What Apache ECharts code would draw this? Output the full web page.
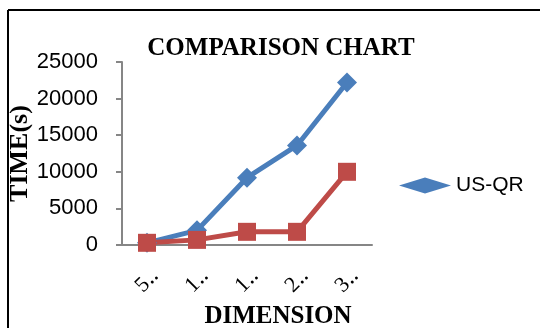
<!DOCTYPE html>
<html><head><meta charset="utf-8">
<script src="https://cdn.jsdelivr.net/npm/echarts@6/dist/echarts.min.js"></script>
<style>html,body{margin:0;padding:0;background:#fff}#c{width:540px;height:328px}</style>
</head><body><div id="c"></div>
<script>
const categories = ['5‥', '1‥', '1‥', '2‥', '3‥'];
const usqr = [300, 2000, 9200, 13600, 22200];
const other = [300, 700, 1800, 1800, 10000];
const yTicks = [0, 5000, 10000, 15000, 20000, 25000];

const chart = echarts.init(document.getElementById('c'), null, {renderer: 'canvas'});
chart.setOption({
  backgroundColor: '#fff',
  animation: false,
  title: {
    text: 'COMPARISON CHART', left: 276, top: 31, textAlign: 'center',
    textStyle: {fontFamily: 'Liberation Serif', fontWeight: 'bold', fontSize: 25, color: '#000'}
  },
  graphic: [
    {type: 'line', shape: {x1: 8, y1: 10, x2: 540, y2: 10}, style: {stroke: '#000', lineWidth: 2}},
    {type: 'line', shape: {x1: 8, y1: 10, x2: 8, y2: 328}, style: {stroke: '#000', lineWidth: 2}}
  ],
  legend: {
    data: [{name: 'US-QR', icon: 'diamond'}],
    left: 394, top: 170, itemWidth: 52, itemHeight: 16, itemGap: 5,
    textStyle: {fontFamily: 'Liberation Sans', fontSize: 21, color: '#000'}
  },
  grid: {left: 122, right: 168, top: 62, bottom: 83, containLabel: false, outerBoundsMode: 'none'},
  xAxis: {
    type: 'category', data: categories, boundaryGap: true,
    name: 'DIMENSION', nameLocation: 'middle', nameGap: 58,
    nameTextStyle: {fontFamily: 'Liberation Serif', fontWeight: 'bold', fontSize: 25, color: '#000', padding: [0, 0, 0, 62]},
    axisLine: {lineStyle: {color: '#868686', width: 2}},
    axisTick: {show: false},
    axisLabel: {rotate: 45, margin: 36, align: 'center', verticalAlign: 'middle',
      fontFamily: 'Liberation Serif', fontSize: 22, color: '#000'}
  },
  yAxis: {
    type: 'value', min: 0, max: 25000, interval: 5000,
    name: 'TIME(s)', nameLocation: 'middle', nameGap: 72, nameRotate: 90,
    nameTextStyle: {fontFamily: 'Liberation Serif', fontWeight: 'bold', fontSize: 26, color: '#000', padding: [0, 0, 6, 0]},
    axisLine: {show: true, lineStyle: {color: '#868686', width: 2}},
    axisTick: {show: true, length: 6, lineStyle: {color: '#868686', width: 2}},
    splitLine: {show: false},
    axisLabel: {margin: 24, fontFamily: 'Liberation Sans', fontSize: 22, color: '#000',
      formatter: v => yTicks.includes(v) ? String(v) : ''}
  },
  series: [
    {name: 'US-QR', type: 'line', data: usqr, symbol: 'diamond', symbolSize: 20,
     lineStyle: {color: '#4A7EBB', width: 5}, itemStyle: {color: '#4A7EBB'}},
    {name: 'Other', type: 'line', data: other, symbol: 'rect', symbolSize: 18,
     lineStyle: {color: '#BE4B48', width: 5}, itemStyle: {color: '#BE4B48'}}
  ]
});
</script></body></html>
